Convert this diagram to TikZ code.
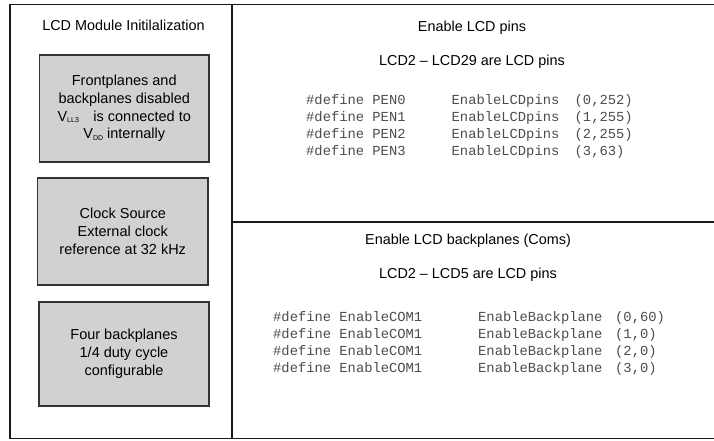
\documentclass[tikz,border=0pt]{standalone}
\usepackage{fontspec}
\setmainfont{Liberation Sans}
\newfontfamily\codefont{Liberation Mono}
\begin{document}
\begin{tikzpicture}[x=1pt,y=-1pt,
  frameline/.style={line width=1.4pt,draw=black!90},
  stepbox/.style={draw=black!80,line width=1.2pt,fill=black!18,align=center,
    font=\fontsize{14.5}{17.8}\selectfont,inner sep=0pt},
  heading/.style={font=\fontsize{14.4}{17}\selectfont,anchor=center},
  code/.style={font=\codefont\fontsize{13.8}{17}\selectfont,text=black!70,anchor=base west,inner sep=0pt}]
\useasboundingbox (0,0) rectangle (714,440);

% outer frame and panel dividers
\draw[frameline] (714,4.5) -- (10,4.5) -- (10,438.5) -- (714,438.5);
\draw[frameline] (232,4.5) -- (232,438.5);
\draw[frameline] (232,222) -- (714,222);

\newcommand{\lowsub}[1]{\raisebox{-1.5pt}{\fontsize{7}{7}\selectfont #1}}

% left panel
\node[heading] (ltitle) at (123.5,25) {LCD Module Initilalization};
\node[stepbox,minimum width=169.5pt,minimum height=107pt] (b1) at (124.25,108.5)
  {Frontplanes and\\backplanes disabled\\V\lowsub{LL3}\quad is connected to\\V\lowsub{DD} internally};
\node[stepbox,minimum width=170.5pt,minimum height=107pt] (b2) at (122.75,231.5)
  {Clock Source\\External clock\\reference at 32 kHz};
\node[stepbox,minimum width=170pt,minimum height=104pt] (b3) at (124,354)
  {Four backplanes\\1/4 duty cycle\\configurable};

% upper right panel: LCD pins
\node[heading] (h1) at (472,28) {Enable LCD pins};
\node[heading] (h2) at (472,62) {LCD2 -- LCD29 are LCD pins};
\foreach \i/\a/\b [count=\k from 0] in {0/0/252,1/1/255,2/2/255,3/3/63}{
  \node[code] (pd\k) at (306,104.5+17*\k) {\#define PEN\i};
  \node[code] (pe\k) at (451.5,104.5+17*\k) {EnableLCDpins};
  \node[code] (pv\k) at (574.5,104.5+17*\k) {(\a,\b)};
}

% lower right panel: backplanes
\node[heading] (h3) at (468,241) {Enable LCD backplanes (Coms)};
\node[heading] (h4) at (468,275) {LCD2 -- LCD5 are LCD pins};
\foreach \a/\b [count=\k from 0] in {0/60,1/0,2/0,3/0}{
  \node[code] (cd\k) at (273,321+17*\k) {\#define EnableCOM1};
  \node[code] (ce\k) at (478,321+17*\k) {EnableBackplane};
  \node[code] (cv\k) at (615,321+17*\k) {(\a,\b)};
}
\end{tikzpicture}
\end{document}
